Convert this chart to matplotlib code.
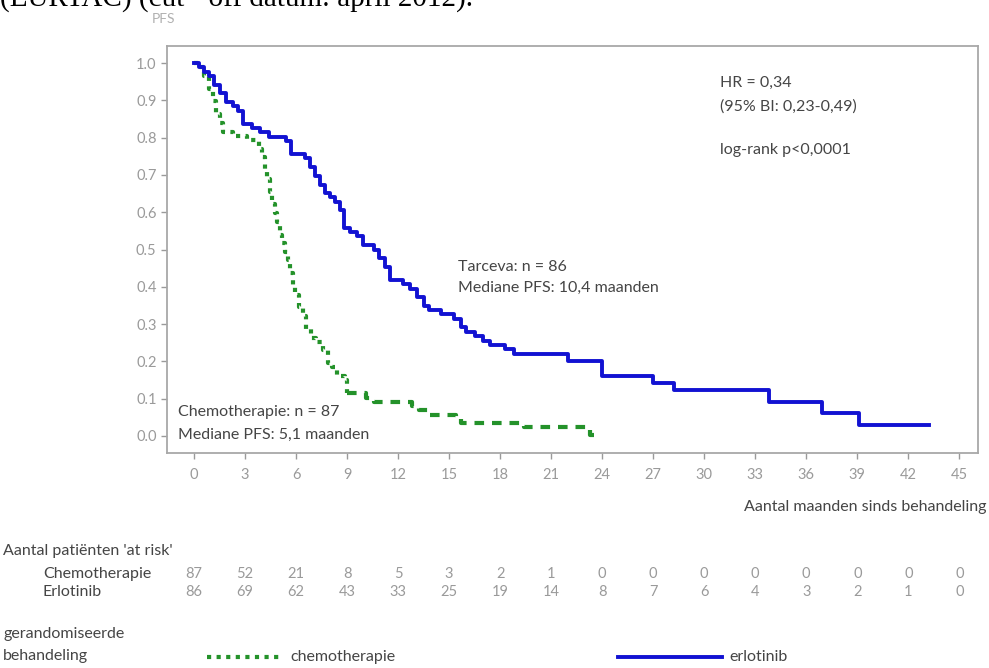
import numpy as np
import matplotlib
matplotlib.use("Agg")
import matplotlib.pyplot as plt
from matplotlib.lines import Line2D

plt.rcParams["font.family"] = ["Lato", "DejaVu Sans"]

# Kaplan-Meier steps (months, PFS after the step)
erl_t = [0, 0.3, 0.6, 0.9, 1.2, 1.5, 1.9, 2.3, 2.6, 2.9, 3.4, 3.9, 4.4, 5.4,
         5.7, 6.5, 6.8, 7.1, 7.4, 7.7, 8.0, 8.3, 8.6, 8.8, 9.2, 9.6, 9.95,
         10.6, 10.9, 11.2, 11.5, 12.3, 12.7, 13.1, 13.5, 13.8, 14.5, 15.3,
         15.7, 16.0, 16.5, 17.0, 17.4, 18.3, 18.8, 22.0, 24.0, 27.0, 28.2,
         33.8, 36.9, 39.1, 43.2]
erl_s = [1.0, 0.988, 0.977, 0.965, 0.942, 0.919, 0.895, 0.884, 0.872, 0.837,
         0.826, 0.814, 0.802, 0.791, 0.756, 0.744, 0.721, 0.698, 0.674, 0.651,
         0.640, 0.628, 0.605, 0.558, 0.547, 0.535, 0.512, 0.500, 0.477, 0.453,
         0.419, 0.407, 0.395, 0.372, 0.349, 0.337, 0.326, 0.314, 0.291, 0.279,
         0.267, 0.256, 0.244, 0.233, 0.221, 0.200, 0.160, 0.142, 0.123, 0.092,
         0.062, 0.030, 0.030]

chemo_t = [0, 0.3, 0.6, 0.9, 1.1, 1.3, 1.5, 1.7, 2.3, 3.1, 3.8, 4.0, 4.15, 4.3,
           4.45, 4.6, 4.75, 4.9, 5.05, 5.2, 5.35, 5.5, 5.65, 5.8, 5.95, 6.2,
           6.4, 6.6, 6.9, 7.2, 7.6, 7.9, 8.1, 8.4, 8.9, 9.0, 10.1, 10.6, 12.8,
           13.2, 13.8, 15.4, 15.7, 19.4, 23.3, 23.5]
chemo_s = [1.0, 0.989, 0.966, 0.931, 0.897, 0.862, 0.839, 0.816, 0.805, 0.793,
           0.770, 0.747, 0.713, 0.690, 0.655, 0.621, 0.598, 0.575, 0.540, 0.517,
           0.494, 0.471, 0.437, 0.402, 0.379, 0.345, 0.322, 0.287, 0.264, 0.253,
           0.230, 0.195, 0.184, 0.161, 0.149, 0.115, 0.103, 0.092, 0.080, 0.069,
           0.057, 0.046, 0.035, 0.023, 0.002, 0.002]

risk_months = [0, 3, 6, 9, 12, 15, 18, 21, 24, 27, 30, 33, 36, 39, 42, 45]
risk_chemo = [87, 52, 21, 8, 5, 3, 2, 1, 0, 0, 0, 0, 0, 0, 0, 0]
risk_erl = [86, 69, 62, 43, 33, 25, 19, 14, 8, 7, 6, 4, 3, 2, 1, 0]

BLUE = "#1212d2"
GREEN = "#24922a"
GRAY = "#9a9a9a"
TXT = "#454545"
FS = 11.5

W, H = 989, 668
fig = plt.figure(figsize=(W / 100, H / 100), dpi=100)
ax = fig.add_axes([167 / W, 1 - 453 / H, (978 - 167) / W, (453 - 46) / H])

# chemo: dotted on the steep early part, dashed after ~9 months
ct = np.array(chemo_t)
cs = np.array(chemo_s)
split = 35
ax.step(ct[:split + 1], cs[:split + 1], where="post", color=GREEN, lw=3,
        linestyle=(0, (1, 1.3)), dash_capstyle="butt")
ax.step(ct[split:], cs[split:], where="post", color=GREEN, lw=3,
        linestyle=(0, (2.3, 1.9)), dash_capstyle="butt")
ax.step(erl_t, erl_s, where="post", color=BLUE, lw=2.8)

ax.set_xlim(-1.59, 46.1)
ax.set_ylim(-0.0456, 1.0456)
ax.set_xticks(risk_months)
ax.set_yticks(np.arange(0, 1.01, 0.1))
ax.set_yticklabels([f"{v:.1f}" for v in np.arange(0, 1.01, 0.1)])
ax.tick_params(colors=GRAY, labelcolor=GRAY, labelsize=10.5, length=4, width=1)
ax.tick_params(axis="x", pad=7)
for sp in ax.spines.values():
    sp.set_color("#a8a8a8")
    sp.set_linewidth(1.3)

ax.text(30.9, 0.946, "HR = 0,34", fontsize=FS, color=TXT, va="center")
ax.text(30.9, 0.882, "(95% BI: 0,23-0,49)", fontsize=FS, color=TXT, va="center")
ax.text(30.9, 0.767, "log-rank p<0,0001", fontsize=FS, color=TXT, va="center")
ax.text(15.5, 0.453, "Tarceva: n = 86", fontsize=FS, color=TXT, va="center")
ax.text(15.5, 0.397, "Mediane PFS: 10,4 maanden", fontsize=FS, color=TXT, va="center")
ax.text(-0.94, 0.064, "Chemotherapie: n = 87", fontsize=FS, color=TXT, va="center")
ax.text(-0.94, 0.003, "Mediane PFS: 5,1 maanden", fontsize=FS, color=TXT, va="center")

# cropped caption above the chart
fig.text(0.0, 1 - 7 / H, "(EURTAC) (cut - off datum: april 2012).", fontsize=21,
         family="Liberation Serif", color="black", va="baseline")
fig.text(152 / W, 1 - 19 / H, "PFS", fontsize=10, color="#b0b0b0", va="center")

fig.text(987 / W, 1 - 507 / H, "Aantal maanden sinds behandeling", fontsize=FS,
         color=TXT, ha="right", va="center")

# at-risk table
fig.text(3 / W, 1 - 551 / H, "Aantal patiënten 'at risk'", fontsize=FS,
         color=TXT, va="center")
fig.text(43 / W, 1 - 574 / H, "Chemotherapie", fontsize=FS, color=TXT, va="center")
fig.text(43 / W, 1 - 592 / H, "Erlotinib", fontsize=FS, color=TXT, va="center")
xt = ax.get_xaxis_transform()
y_c = (453 - 574) / (453 - 46)
y_e = (453 - 592) / (453 - 46)
for m, c, e in zip(risk_months, risk_chemo, risk_erl):
    ax.text(m, y_c, str(c), transform=xt, ha="center", va="center",
            fontsize=10.5, color=GRAY, clip_on=False)
    ax.text(m, y_e, str(e), transform=xt, ha="center", va="center",
            fontsize=10.5, color=GRAY, clip_on=False)

# legend row
fig.text(3 / W, 1 - 634 / H, "gerandomiseerde", fontsize=FS, color=TXT, va="center")
fig.text(3 / W, 1 - 656 / H, "behandeling", fontsize=FS, color=TXT, va="center")
yl = 1 - 657 / H
fig.add_artist(Line2D([207 / W, 282 / W], [yl, yl], transform=fig.transFigure,
                      color=GREEN, lw=3, linestyle=(0, (1, 1.3))))
fig.text(290 / W, yl, "chemotherapie", fontsize=FS, color=TXT, va="center")
fig.add_artist(Line2D([618 / W, 722 / W], [yl, yl], transform=fig.transFigure,
                      color=BLUE, lw=2.8))
fig.text(729 / W, yl, "erlotinib", fontsize=FS, color=TXT, va="center")

fig.savefig("out.png", dpi=100)
